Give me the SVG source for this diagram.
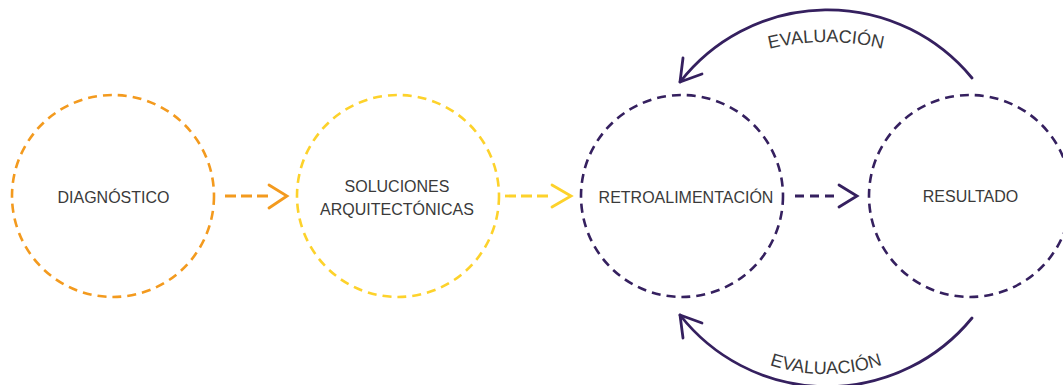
<svg xmlns="http://www.w3.org/2000/svg" width="1063" height="385" viewBox="0 0 1063 385">
<style>
.node{fill:none;stroke-width:2.6;stroke-dasharray:9 6}
.lbl{font-family:"Liberation Sans",Arial,sans-serif;font-size:16px;fill:#3a3a3a;text-anchor:middle}
.arc{fill:none;stroke:#35205f;stroke-width:2.8;stroke-linecap:round;stroke-linejoin:round}
.dl{fill:none;stroke-width:2.8}
.chev{fill:none;stroke-width:2.8;stroke-linecap:round;stroke-linejoin:miter}
.ev{font-family:"Liberation Sans",Arial,sans-serif;font-size:18px;fill:#3a3a3a}
</style>
<rect width="1063" height="385" fill="#ffffff"/>
<defs>
<path id="topText" d="M 586 282 A 240 240 0 0 1 1066 282" fill="none"/>
<path id="botText" d="M 648 196 A 178 178 0 0 0 1004 196" fill="none"/>
</defs>
<g id="diagnostico">
<circle class="node" cx="113" cy="196" r="101" stroke="#f39a1e"/>
<text class="lbl" x="113.5" y="203">DIAGNÓSTICO</text>
</g>
<g id="soluciones">
<circle class="node" cx="398" cy="196" r="101" stroke="#fdd22b"/>
<text class="lbl" x="397" y="192">SOLUCIONES</text>
<text class="lbl" x="397" y="215">ARQUITECTÓNICAS</text>
</g>
<g id="retroalimentacion">
<circle class="node" cx="682" cy="196" r="101" stroke="#35205f"/>
<text class="lbl" x="686" y="203">RETROALIMENTACIÓN</text>
</g>
<g id="resultado">
<circle class="node" cx="970" cy="196" r="101" stroke="#35205f"/>
<text class="lbl" x="970.5" y="202">RESULTADO</text>
</g>
<g id="connectors">
<line class="dl" x1="225" y1="196" x2="270" y2="196" stroke="#f39a1e" stroke-dasharray="11 5"/>
<polyline class="chev" points="269,185 287,196 269,208" stroke="#f39a1e"/>
<line class="dl" x1="505" y1="196" x2="550" y2="196" stroke="#fdd22b" stroke-dasharray="11 5"/>
<polyline class="chev" points="552,185 571,196 552,207" stroke="#fdd22b"/>
<line class="dl" x1="795" y1="196" x2="836" y2="196" stroke="#35205f" stroke-dasharray="9 6"/>
<polyline class="chev" points="839,185 857,196 839,207" stroke="#35205f"/>
<path class="arc" d="M 972 78 A 187 187 0 0 0 680 82"/>
<polyline class="arc" points="683,58 680,82 702,74"/>
<path class="arc" d="M 972 318 A 187 187 0 0 1 680 315"/>
<polyline class="arc" points="683,338 680,315 702,323"/>
<text class="ev"><textPath href="#topText" startOffset="50%" text-anchor="middle">EVALUACIÓN</textPath></text>
<text class="ev"><textPath href="#botText" startOffset="50%" text-anchor="middle">EVALUACIÓN</textPath></text>
</g>
</svg>
